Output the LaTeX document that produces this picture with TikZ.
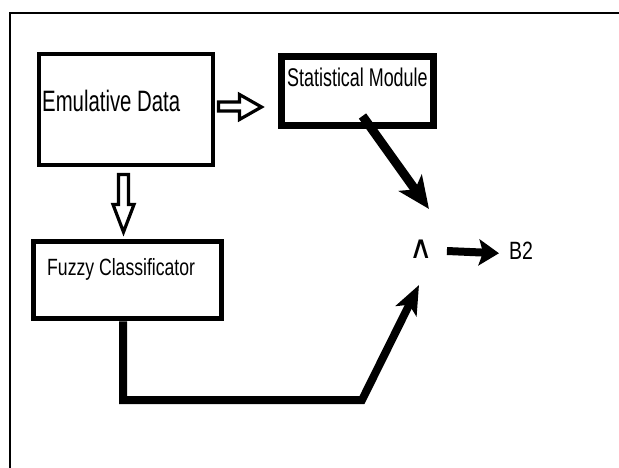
\documentclass[tikz,border=0pt]{standalone}
\usepackage{fontspec}
\usepackage{graphicx}
\setmainfont{Liberation Sans}
\newfontfamily\symfont{DejaVu Sans}
\usetikzlibrary{arrows.meta,calc}
\begin{document}
\begin{tikzpicture}[x=1pt,y=-1pt,
  box/.style={draw, rectangle, inner sep=0pt, fill=white},
  lbl/.style={anchor=base west, inner sep=0pt},
  hollow/.style={draw, line width=3.2pt, line join=miter, miter limit=10, fill=white},
  blackarrow/.style={draw, line width=8pt, line join=miter}]
\useasboundingbox (0,0) rectangle (619,468);
% frame
\draw[line width=2pt] (10,468) -- (10,13) -- (619,13);
% boxes
\node[box, line width=4.5pt, minimum width=174pt, minimum height=111pt] (emu) at (126,109.5) {};
\node[box, line width=7pt, minimum width=152pt, minimum height=69pt] (stat) at (357.5,91) {};
\node[box, line width=5.5pt, minimum width=188pt, minimum height=77pt] (fuz) at (127.5,280) {};
% texts
\node[lbl] (emut) at (42,112) {\fontsize{29.5}{29.5}\selectfont\scalebox{0.69}[1]{Emulative Data}};
\node[lbl] (statt) at (287,87) {\fontsize{25.6}{25.6}\selectfont\scalebox{0.70}[1]{Statistical Module}};
\node[lbl] (fuzt) at (47,276) {\fontsize{23.5}{23.5}\selectfont\scalebox{0.75}[1]{Fuzzy Classificator}};
\node[lbl] (b2) at (509,259) {\fontsize{25}{25}\selectfont\scalebox{0.78}[1]{B2}};
\node[inner sep=0pt] (and) at (421,249) {\symfont\fontsize{32}{32}\selectfont ∧};
% hollow arrows
\draw[hollow] (218.5,102) -- (239.5,102) -- (239.5,94.5) -- (261.5,107) -- (239.5,119.5) -- (239.5,111) -- (218.5,111) -- cycle;
\draw[hollow] (118.5,174.5) -- (128.5,174.5) -- (128.5,204.5) -- (134,204.5) -- (123.5,232) -- (113,204.5) -- (118.5,204.5) -- cycle;
% black arrows
\coordinate (in1) at (429,209);
\coordinate (in2) at (419,285);
\coordinate (c1) at (123,400);
\coordinate (c2) at (362,400);
\draw[blackarrow, line width=9pt, -{Stealth[length=32pt,width=28pt,inset=8pt]}] ([xshift=5pt,yshift=13pt]stat.south) -- (in1);
\draw[blackarrow, -{Stealth[length=29pt,width=23pt,inset=7pt]}] (fuz.south -| c1) -- (c1) -- (c2) -- (in2);
\draw[blackarrow, -{Stealth[length=20pt,width=26pt,inset=4pt]}] ([xshift=14pt,yshift=-2pt]and.east) -- ([xshift=-10pt,yshift=-3pt]b2.west);
\end{tikzpicture}
\end{document}
